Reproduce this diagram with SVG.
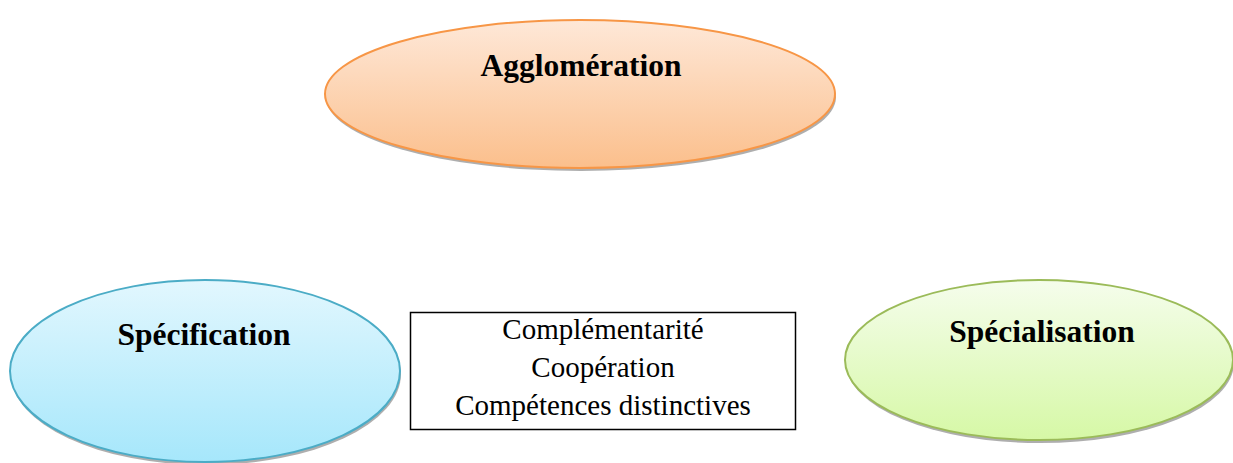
<svg xmlns="http://www.w3.org/2000/svg" width="1233" height="463" viewBox="0 0 1233 463">
<style>
.shadow{fill:#9a9a9a;opacity:0.8}
.lbl{font-family:"Liberation Serif","Times New Roman",serif;font-weight:bold;font-size:31.5px;fill:#000;text-anchor:middle}
.txt{font-family:"Liberation Serif","Times New Roman",serif;font-size:29px;fill:#000;text-anchor:middle}
</style>
<defs>
<linearGradient id="gO" x1="0" y1="0" x2="0" y2="1"><stop offset="0" stop-color="#fee8d8"/><stop offset="1" stop-color="#fbbf8c"/></linearGradient>
<linearGradient id="gB" x1="0" y1="0" x2="0" y2="1"><stop offset="0" stop-color="#e2f7fe"/><stop offset="1" stop-color="#a6e7fb"/></linearGradient>
<linearGradient id="gG" x1="0" y1="0" x2="0" y2="1"><stop offset="0" stop-color="#f5fdec"/><stop offset="1" stop-color="#d6f8a6"/></linearGradient>
</defs>
<rect width="1233" height="463" fill="#fff"/>
<g id="agglomeration">
<ellipse class="shadow" cx="581" cy="97" rx="255" ry="74"/>
<ellipse cx="580" cy="94" rx="255" ry="74" fill="url(#gO)" stroke="#f79646" stroke-width="2"/>
<text class="lbl" x="581" y="76">Agglomération</text>
</g>
<g id="specification">
<ellipse class="shadow" cx="206" cy="374" rx="195" ry="91"/>
<ellipse cx="205" cy="371" rx="195" ry="91" fill="url(#gB)" stroke="#4bacc6" stroke-width="2"/>
<text class="lbl" x="204" y="345">Spécification</text>
</g>
<g id="specialisation">
<ellipse class="shadow" cx="1040" cy="363" rx="194" ry="80"/>
<ellipse cx="1039" cy="360" rx="194" ry="80" fill="url(#gG)" stroke="#9bbb59" stroke-width="2"/>
<text class="lbl" x="1042" y="342">Spécialisation</text>
</g>
<g id="box">
<rect x="410.5" y="312.5" width="385" height="117" fill="#fff" stroke="#000" stroke-width="1.5"/>
<text class="txt" x="603" y="339">Complémentarité</text>
<text class="txt" x="603" y="377">Coopération</text>
<text class="txt" x="603" y="415">Compétences distinctives</text>
</g>
<g id="connectors"/>
</svg>
